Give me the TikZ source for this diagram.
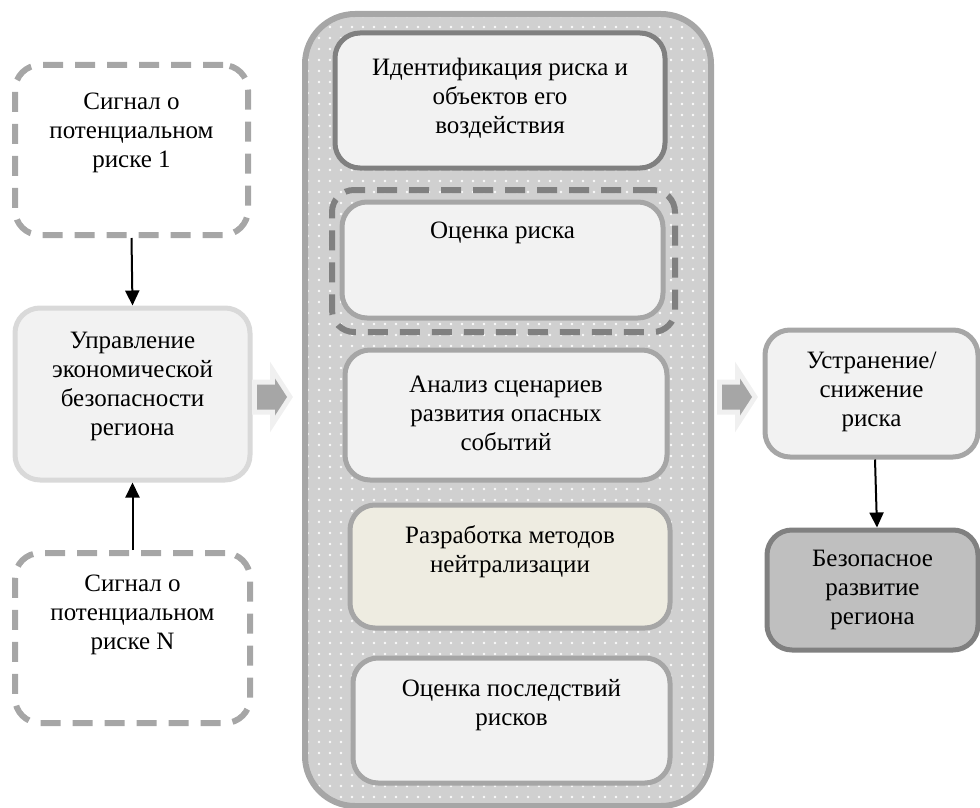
\documentclass[tikz,border=0pt]{standalone}
\usepackage{fontspec}
\setmainfont{Liberation Serif}
\usetikzlibrary{arrows.meta,patterns.meta}
\definecolor{gA}{HTML}{A6A6A6}
\definecolor{gD}{HTML}{808080}
\definecolor{gL}{HTML}{D9D9D9}
\definecolor{bfill}{HTML}{F2F2F2}
\definecolor{tan}{HTML}{EEECE1}
\definecolor{dfill}{HTML}{BFBFBF}
\definecolor{panel}{HTML}{D0D0D0}
\begin{document}
\begin{tikzpicture}[x=1pt,y=-1pt,
  box/.style={draw=gA, rounded corners=25pt, line width=5pt, fill=bfill, inner sep=0pt},
  dbox/.style={draw=gA, rounded corners=25pt, line width=6pt, dash pattern=on 20pt off 12pt, inner sep=0pt},
  txt/.style={align=center, font=\fontsize{25}{29}\selectfont, inner sep=0pt},
  conn/.style={line width=2pt, -{Triangle[width=14pt,length=15pt]}},
  bigarrow/.style={fill=gA, preaction={draw=black!6, line width=10pt, line join=miter}}
]
\useasboundingbox (0,0) rectangle (980,808);

% left column
\node[dbox, minimum width=233pt, minimum height=170pt] (s1) at (131.5,150) {};
\node[txt] (s1t) at (131.5,133) {Сигнал о\\потенциальном\\риске 1};
\node[box, draw=gL, minimum width=235pt, minimum height=172pt] (m) at (132.5,394) {};
\node[txt] (mt) at (132.5,386) {Управление\\экономической\\безопасности\\региона};
\node[dbox, minimum width=235pt, minimum height=170pt] (sn) at (132.5,638) {};
\node[txt] (snt) at (132.5,615) {Сигнал о\\потенциальном\\риске N};

\draw[conn] (s1.south) -- (m.north);
\draw[conn] (sn.north) -- (m.south);

% central panel
\node[draw=gA, line width=6pt, rounded corners=50pt, minimum width=406pt, minimum height=792pt,
      preaction={fill=panel}, pattern={Dots[distance=11pt,radius=1.3pt]}, pattern color=white!90!panel,
      inner sep=0pt] (p) at (508,410) {};

\node[box, draw=gD, minimum width=330pt, minimum height=135pt] (b1) at (500,100.5) {};
\node[txt] (b1t) at (500,98) {Идентификация риска и\\объектов его\\воздействия};

\node[dbox, draw=gD, rounded corners=22pt, minimum width=343pt, minimum height=142pt] (b2d) at (503.5,261) {};
\node[box, minimum width=321pt, minimum height=116pt] (b2) at (502.5,260) {};
\node[txt] (b2t) at (502.5,233) {Оценка риска};

\node[box, minimum width=322pt, minimum height=130pt] (b3) at (506,415) {};
\node[txt] (b3t) at (506,413) {Анализ сценариев\\развития опасных\\событий};

\node[box, fill=tan, minimum width=320pt, minimum height=123pt] (b4) at (510,566.5) {};
\node[txt] (b4t) at (510,552) {Разработка методов\\нейтрализации};

\node[box, minimum width=317pt, minimum height=125pt] (b5) at (511.5,720.5) {};
\node[txt] (b5t) at (511.5,705) {Оценка последствий\\рисков};

% block arrows
\coordinate (a1) at (272,397);
\coordinate (a2) at (737,397);
\foreach \c in {a1,a2}
  \path[bigarrow, shift={(\c)}] (-15,-12.5) -- (3,-12.5) -- (3,-18.5) -- (15,0)
        -- (3,18.5) -- (3,12.5) -- (-15,12.5) -- cycle;

% right column
\node[box, minimum width=213pt, minimum height=127pt] (u) at (871.5,393.5) {};
\node[txt] (ut) at (871.5,392) {Устранение/\\снижение\\риска};
\node[box, draw=gD, fill=dfill, minimum width=211pt, minimum height=120pt] (r) at (872.5,590) {};
\node[txt] (rt) at (872.5,590) {Безопасное\\развитие\\региона};

\draw[conn] ([xshift=3.5pt]u.south) -- ([xshift=4.5pt]r.north);
\end{tikzpicture}
\end{document}
